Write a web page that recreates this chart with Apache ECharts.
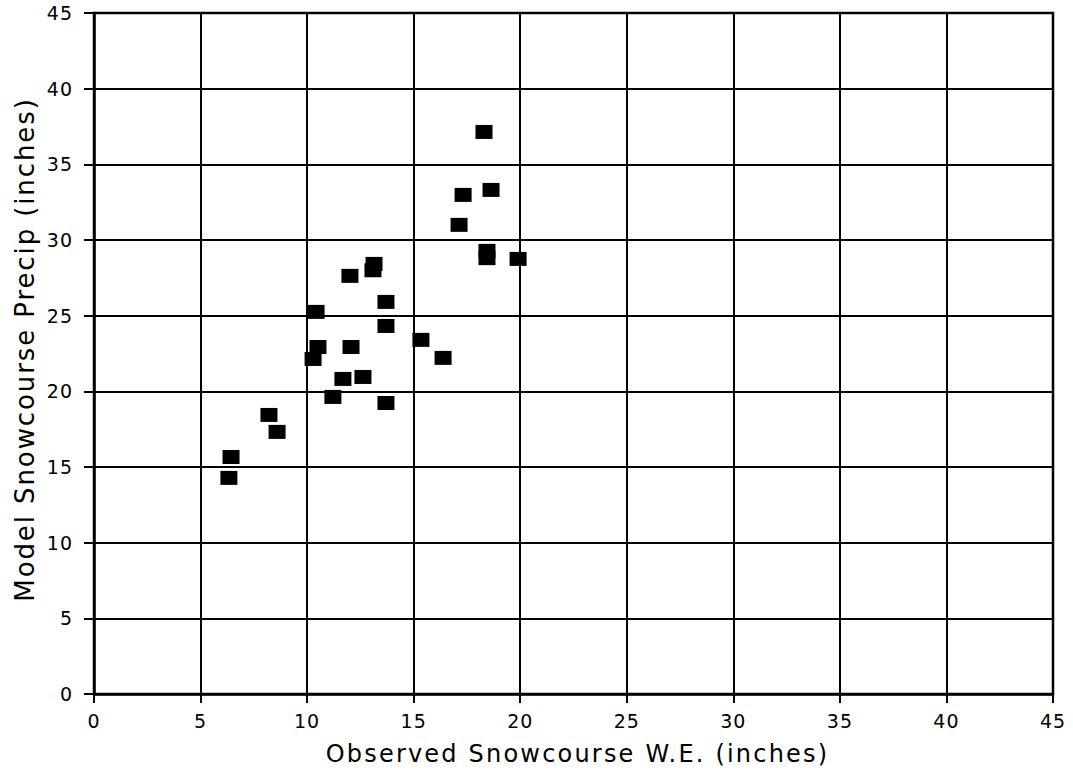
<!DOCTYPE html>
<html>
<head>
<meta charset="utf-8">
<script src="https://cdn.jsdelivr.net/npm/echarts@6/dist/echarts.min.js"></script>
<style>
html,body{margin:0;padding:0;background:#fff;}
#chart{width:1073px;height:775px;}
#chart svg text[style*="24px"]{letter-spacing:2.2px;}
#chart svg text[style*="26px"]{letter-spacing:1.9px;}
#chart svg text[style*="19px"]{letter-spacing:1px;}
</style>
</head>
<body>
<div id="chart"></div>
<script>
// Observed snowcourse W.E. (inches)
const observed = [6.33, 6.43, 8.21, 8.59, 10.28, 10.51, 10.42, 11.21, 11.68, 12.01, 12.06, 12.62, 13.09, 13.14, 13.70, 13.70, 13.70, 15.34, 16.38, 17.13, 17.32, 18.30, 18.44, 18.44, 18.63, 19.90];
// Model snowcourse precip (inches)
const model = [14.28, 15.66, 18.44, 17.32, 22.14, 22.93, 25.25, 19.63, 20.82, 27.63, 22.93, 20.95, 28.00, 28.42, 25.91, 24.32, 19.23, 23.40, 22.21, 31.00, 32.98, 37.14, 29.28, 28.80, 33.31, 28.75];
const xTicks = [0, 5, 10, 15, 20, 25, 30, 35, 40, 45];
const yTicks = [0, 5, 10, 15, 20, 25, 30, 35, 40, 45];
const xTitle = 'Observed Snowcourse W.E. (inches)';
const yTitle = 'Model Snowcourse Precip (inches)';

const points = observed.map((x, i) => [x, model[i]]);
const titleFont = 'DejaVu Sans';
const tickFont = 'DejaVu Sans';

const chart = echarts.init(document.getElementById('chart'), null, { renderer: 'svg' });
chart.setOption({
  animation: false,
  backgroundColor: '#fff',
  grid: { left: 94, right: 20, top: 13, bottom: 81, show: true, borderColor: '#000', borderWidth: 2.5, backgroundColor: 'transparent' },
  xAxis: {
    type: 'value', min: xTicks[0], max: xTicks[xTicks.length - 1], interval: 5,
    name: xTitle, nameLocation: 'middle', nameGap: 48,
    nameTextStyle: { fontFamily: titleFont, fontSize: 24, color: '#000', padding: [0, 0, 0, 8] },
    axisLine: { show: true, lineStyle: { color: '#000', width: 2.5 } },
    axisTick: { show: true, length: 9, lineStyle: { color: '#000', width: 2 } },
    axisLabel: { fontFamily: tickFont, fontSize: 19, color: '#000', margin: 17 },
    splitLine: { show: true, lineStyle: { color: '#000', width: 2 } }
  },
  yAxis: {
    type: 'value', min: yTicks[0], max: yTicks[yTicks.length - 1], interval: 5,
    name: yTitle, nameLocation: 'middle', nameGap: 54,
    nameTextStyle: { fontFamily: titleFont, fontSize: 26, color: '#000', padding: [0, 0, 0, 8] },
    axisLine: { show: true, lineStyle: { color: '#000', width: 2.5 } },
    axisTick: { show: true, length: 10, lineStyle: { color: '#000', width: 2 } },
    axisLabel: { fontFamily: tickFont, fontSize: 19, color: '#000', margin: 21 },
    splitLine: { show: true, lineStyle: { color: '#000', width: 2 } }
  },
  series: [{
    type: 'scatter',
    data: points,
    symbol: 'rect',
    symbolSize: [17, 14],
    itemStyle: { color: '#000', opacity: 1 }
  }]
});
</script>
</body>
</html>
